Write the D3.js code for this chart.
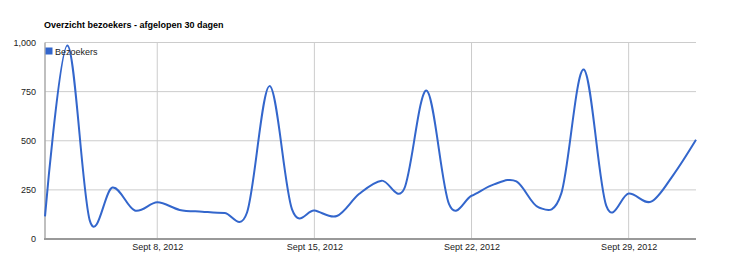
<!DOCTYPE html>
<html>
<head>
<meta charset="utf-8">
<script src="https://cdn.jsdelivr.net/npm/d3@7"></script>
<style>
  body { margin: 0; background: #fff; }
  svg { display: block; font-family: Arial, "Liberation Sans", sans-serif; }
</style>
</head>
<body>
<svg id="chart" width="734" height="277"></svg>
<script>
// visitors per day, Sept 3 .. Oct 2 2012
const startDay = [2012, 8, 3];
const visitors = [
  115, 985, 92, 262, 145, 187, 148, 139, 132, 135,
  778, 152, 145, 117, 230, 297, 255, 755, 177, 220,
  278, 293, 160, 232, 863, 170, 231, 190, 328, 505,
];
const yTicks = [0, 250, 500, 750, 1000];
const xTickDays = [8, 15, 22, 29];
const title = 'Overzicht bezoekers - afgelopen 30 dagen';
const seriesName = 'Bezoekers';

const svg = d3.select('#chart');
const plotL = 45, plotR = 696, plotT = 42.5, plotB = 239;

const data = visitors.map((v, i) => ({
  date: new Date(Date.UTC(startDay[0], startDay[1], startDay[2] + i)),
  value: v,
}));

const x = d3.scaleUtc()
  .domain(d3.extent(data, (d) => d.date))
  .range([plotL, plotR]);
const y = d3.scaleLinear()
  .domain([0, 1000])
  .range([plotB, plotT]);

// horizontal grid
svg.append('g')
  .selectAll('line')
  .data(yTicks.slice(1))
  .enter().append('line')
    .attr('x1', plotL).attr('x2', plotR)
    .attr('y1', (d) => y(d)).attr('y2', (d) => y(d))
    .attr('stroke', '#cccccc')
    .attr('stroke-width', 1);

// vertical grid
const xTicks = xTickDays.map((d) => new Date(Date.UTC(2012, 8, d)));
svg.append('g')
  .selectAll('line')
  .data(xTicks)
  .enter().append('line')
    .attr('x1', (d) => x(d)).attr('x2', (d) => x(d))
    .attr('y1', plotT).attr('y2', plotB)
    .attr('stroke', '#cccccc')
    .attr('stroke-width', 1);

// axes lines
svg.append('line')
  .attr('x1', plotL).attr('x2', plotL)
  .attr('y1', plotT).attr('y2', plotB)
  .attr('stroke', '#aaaaaa').attr('stroke-width', 1.5);
svg.append('line')
  .attr('x1', plotL - 1).attr('x2', plotR)
  .attr('y1', plotB).attr('y2', plotB)
  .attr('stroke', '#999999').attr('stroke-width', 2);

// y labels
const yAxis = d3.axisLeft(y)
  .tickValues(yTicks)
  .tickFormat(d3.format(','))
  .tickSize(0)
  .tickPadding(9);
const gy = svg.append('g')
  .attr('transform', `translate(${plotL},0)`)
  .call(yAxis);
gy.select('.domain').remove();
gy.selectAll('text')
  .attr('font-size', 9)
  .attr('font-family', 'Arial, "Liberation Sans", sans-serif')
  .attr('fill', '#222');

// x labels
const xAxis = d3.axisBottom(x)
  .tickValues(xTicks)
  .tickFormat((d) => `Sept ${d.getUTCDate()}, 2012`)
  .tickSize(0)
  .tickPadding(5);
const gx = svg.append('g')
  .attr('transform', `translate(0,${plotB})`)
  .call(xAxis);
gx.select('.domain').remove();
gx.selectAll('text')
  .attr('font-size', 9)
  .attr('font-family', 'Arial, "Liberation Sans", sans-serif')
  .attr('fill', '#222');

// the series
const line = d3.line()
  .x((d) => x(d.date))
  .y((d) => y(d.value))
  .curve(d3.curveCardinal.tension(0));
svg.append('path')
  .datum(data)
  .attr('d', line)
  .attr('fill', 'none')
  .attr('stroke', '#3366cc')
  .attr('stroke-width', 2);

// legend
svg.append('rect')
  .attr('x', 45.5).attr('y', 47.5)
  .attr('width', 7).attr('height', 7)
  .attr('fill', '#3366cc');
svg.append('text')
  .attr('x', 55).attr('y', 54.5)
  .attr('font-size', 9)
  .attr('fill', '#222')
  .text(seriesName);

// title
svg.append('text')
  .attr('x', 44).attr('y', 27.5)
  .attr('font-size', 9)
  .attr('font-weight', 'bold')
  .attr('fill', '#000')
  .text(title);
</script>
</body>
</html>
